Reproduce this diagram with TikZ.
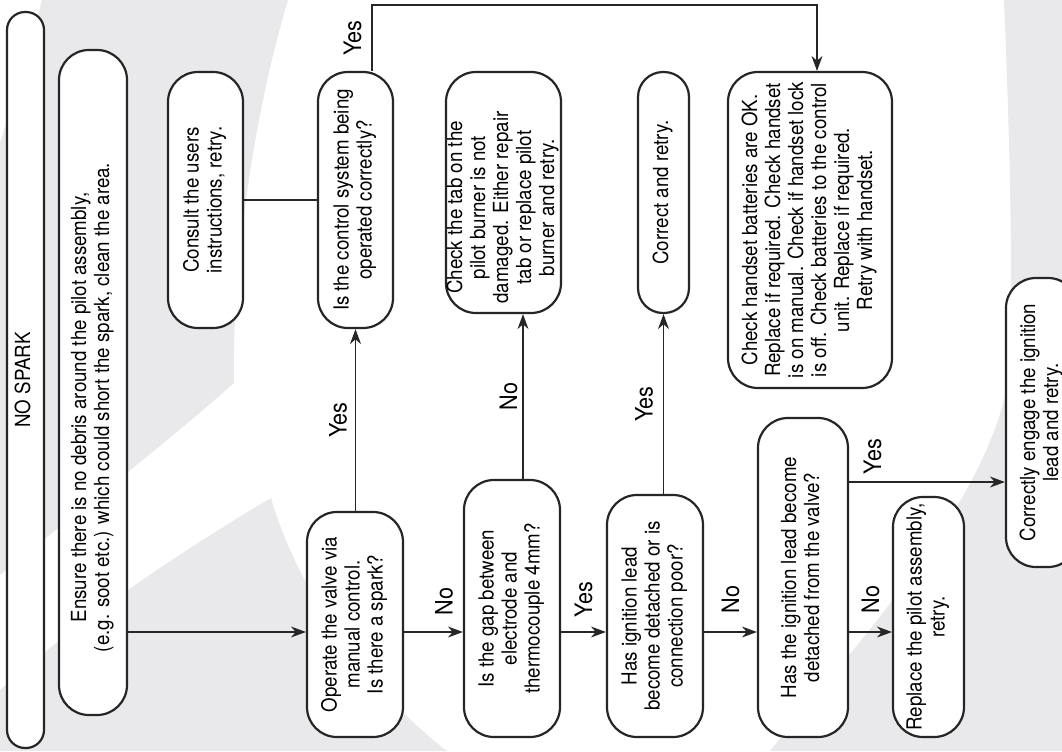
\documentclass[tikz,border=0pt]{standalone}
\usepackage{fontspec}
\setmainfont{TeX Gyre Heros}[FakeStretch=0.9]
\usetikzlibrary{arrows.meta,calc}

\definecolor{wmgray}{RGB}{233,233,236}
\newcommand{\boxfont}{\fontsize{10.4pt}{11.5pt}\selectfont}
\newcommand{\lblfont}{\fontsize{12pt}{14pt}\selectfont}
% text that runs upwards; the option pushes it down inside its box
\newcommand{\vtext}[2][0pt]{\rotatebox{90}{\begin{tabular}{@{}c@{}}#2\end{tabular}\hspace*{#1}}}
\newcommand{\vlbl}[1]{\rotatebox{90}{#1}}

\begin{document}
\begin{tikzpicture}[
  x=0.5pt,y=-0.5pt,
  box/.style={draw=black!85,line width=1.1pt,fill=white,rounded corners=15pt,inner sep=0pt,font=\boxfont},
  lbl/.style={inner sep=0pt,font=\lblfont},
  conn/.style={draw=black!85,line width=0.6pt},
  arr/.style={conn,-{Stealth[length=7.5pt,width=5.5pt]}},
]
\useasboundingbox (0,0) rectangle (1062,751);
\clip (0,0) rectangle (1062,751);
\fill[white] (0,0) rectangle (1062,751);

% watermark
\fill[wmgray] (42,0) -- (288,0) .. controls (255,110) and (232,260) .. (234,383)
  .. controls (170,440) and (80,510) .. (0,575) -- (0,143) .. controls (15,95) and (30,45) .. (42,0) -- cycle;
\fill[wmgray] (271,498) .. controls (300,600) and (380,700) .. (447,751) -- (0,751) -- (0,690)
  .. controls (90,610) and (200,540) .. (271,498) -- cycle;
\fill[wmgray] (1004,0) -- (1062,0) -- (1062,751) -- (770,751) .. controls (860,640) and (990,500) .. (1009,376)
  .. controls (1014,250) and (1008,100) .. (1004,0) -- cycle;

\node[box,rounded corners=9pt,minimum width=18.5pt,minimum height=368pt] (nospark) at (25.5,380) {\vtext{NO SPARK}};
\node[box,minimum width=34pt,minimum height=332.5pt] (ensure) at (93,382.5)
  {\vtext[25pt]{Ensure there is no debris around the pilot assembly,\\(e.g. soot etc.) which could short the spark, clean the area.}};
\node[box,minimum width=37.5pt,minimum height=128pt] (consult) at (205.5,200) {\vtext{Consult the users\\instructions, retry.}};
\node[box,minimum width=37.5pt,minimum height=128pt] (control) at (355.5,200) {\vtext{Is the control system being\\operated correctly?}};
\node[box,minimum width=48pt,minimum height=112.5pt] (operate) at (355,624.5) {\vtext{Operate the valve via\\manual control.\\Is there a spark?}};
\node[box,minimum width=56.5pt,minimum height=120.5pt] (tab) at (503.5,192.5)
  {\vtext[15pt]{Check the tab on the\\pilot burner is not\\damaged. Either repair\\tab or replace pilot\\burner and retry.}};
\node[box,minimum width=48pt,minimum height=128.5pt] (gap) at (512,608.5) {\vtext{Is the gap between\\electrode and\\thermocouple 4mm?}};
\node[box,rounded corners=12.5pt,minimum width=25.5pt,minimum height=120.5pt] (correct) at (663.5,192.5) {\vtext{Correct and retry.}};
\node[box,minimum width=48pt,minimum height=121pt] (hasign) at (655,616) {\vtext{Has ignition lead\\become detached or is\\connection poor?}};
\node[box,minimum width=82pt,minimum height=158pt] (handset) at (810,230)
  {\vtext{Check handset batteries are OK.\\Replace if required. Check handset\\is on manual. Check if handset lock\\is off. Check batteries to the control\\unit. Replace if required.\\Retry with handset.}};
\node[box,minimum width=45pt,minimum height=159.5pt] (haslead) at (803,577.5) {\vtext{Has the ignition lead become\\detached from the valve?}};
\node[box,minimum width=35.5pt,minimum height=120pt] (replace) at (928.5,617) {\vtext{Replace the pilot assembly,\\retry.}};
\node[box,minimum width=36pt,minimum height=144.5pt] (correctly) at (1042,422.5) {\vtext{Correctly engage the ignition\\lead and retry.}};

\coordinate (row) at (0,632);
\coordinate (yesrow) at (0,482);
\coordinate (toprow) at (0,5);
\coordinate (ctrlout) at ($(control.north)+(16.5,0)$);
\coordinate (handin) at ($(handset.north)+(7,0)$);
\coordinate (gapout) at ($(gap.north)+(11,0)$);

\draw[arr] (ensure.east |- row) -- (operate.west |- row);
\draw[arr] (operate.east |- row) -- node[lbl,above=8pt,pos=0.68] {\vlbl{No}} (gap.west |- row);
\draw[arr] (gap.east |- row) -- node[lbl,above=7pt] {\vlbl{Yes}} (hasign.west |- row);
\draw[arr] (hasign.east |- row) -- node[lbl,above=9pt] {\vlbl{No}} (haslead.west |- row);
\draw[arr] (haslead.east |- row) -- node[lbl,above=9pt] {\vlbl{No}} (replace.west |- row);
\draw[arr] (haslead.east |- yesrow) -- node[lbl,above=3.5pt,pos=0.15] {\vlbl{Yes}} (correctly.west |- yesrow);

\draw[arr] (operate.north -| control.south) -- node[lbl,left=4pt] {\vlbl{Yes}} (control.south);
\draw[arr] (gapout) -- node[lbl,left=2.5pt] {\vlbl{No}} (gapout |- tab.south);
\draw[arr] (hasign.north -| correct.south) -- node[lbl,left=5pt] {\vlbl{Yes}} (correct.south);
\draw[conn] (consult.east) -- (control.west);
\draw[arr] (ctrlout) -- node[lbl,left=5pt] {\vlbl{Yes}} (ctrlout |- toprow) -- (handin |- toprow) -- (handin);
\end{tikzpicture}
\end{document}
